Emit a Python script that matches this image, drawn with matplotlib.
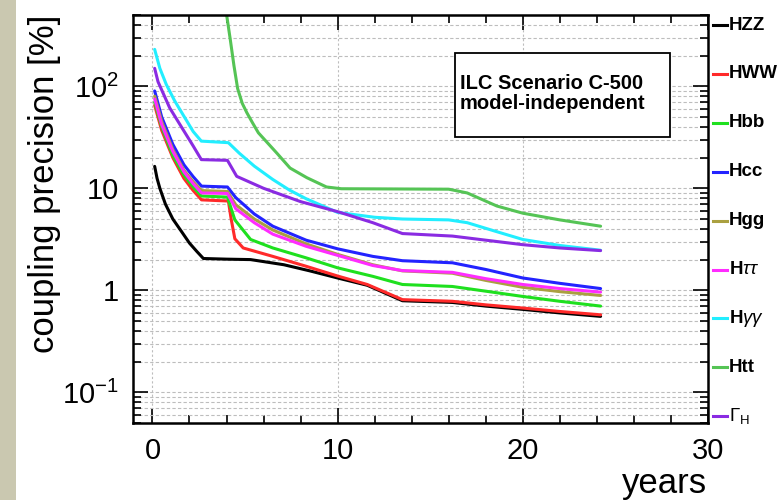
import matplotlib
matplotlib.use('Agg')
import matplotlib.pyplot as plt
from matplotlib.lines import Line2D
from matplotlib.patches import Rectangle
from matplotlib.ticker import FixedLocator, FixedFormatter, MultipleLocator, NullFormatter

plt.rcParams['font.family'] = ['Liberation Sans', 'DejaVu Sans']
plt.rcParams['mathtext.fontset'] = 'custom'
plt.rcParams['mathtext.rm'] = 'Liberation Sans'
plt.rcParams['mathtext.it'] = 'Liberation Sans:italic'
plt.rcParams['mathtext.bf'] = 'Liberation Sans:bold'

# coupling precision [%] vs. running time [years], ILC scenario C-500
years_zz = [0.12, 0.25, 0.4, 0.7, 1.1, 1.6, 2.0, 2.4, 2.75, 4.0, 5.3, 7.1, 8.5, 10.0, 11.6, 13.5, 16.2, 18.0, 20.0, 22.0, 24.2]
hzz = [16.4, 12.5, 10.0, 7.0, 5.0, 3.7, 2.9, 2.4, 2.05, 2.02, 2.0, 1.78, 1.55, 1.32, 1.12, 0.79, 0.76, 0.70, 0.65, 0.60, 0.555]

years_ww = [0.12, 0.5, 1.1, 1.7, 2.2, 2.65, 4.1, 4.25, 4.45, 4.9, 6.5, 8.3, 10.0, 11.6, 13.5, 16.2, 18.0, 20.0, 22.0, 24.2]
hww = [65, 37, 20, 12.5, 9.5, 7.7, 7.5, 5.0, 3.2, 2.6, 2.15, 1.72, 1.38, 1.14, 0.81, 0.78, 0.72, 0.67, 0.62, 0.575]

years_bb = [0.12, 0.5, 1.1, 1.7, 2.2, 2.65, 4.05, 4.45, 5.3, 6.5, 8.3, 10.0, 11.9, 13.5, 16.2, 18.0, 20.0, 22.0, 24.2]
hbb = [70, 40, 21, 13.5, 10.3, 8.4, 8.2, 4.9, 3.15, 2.6, 2.08, 1.66, 1.37, 1.14, 1.09, 0.98, 0.87, 0.78, 0.70]

years_cc = [0.12, 0.5, 1.1, 1.7, 2.2, 2.65, 4.05, 4.5, 5.5, 6.5, 8.3, 10.0, 11.9, 13.5, 16.2, 18.0, 20.0, 22.0, 24.2]
hcc = [90, 50, 27, 17, 13, 10.5, 10.3, 8.1, 5.6, 4.25, 3.1, 2.55, 2.15, 1.95, 1.86, 1.6, 1.32, 1.17, 1.04]
hgg = [80, 45, 24, 15, 11.6, 9.5, 9.3, 6.9, 5.0, 3.9, 2.85, 2.25, 1.78, 1.55, 1.47, 1.25, 1.07, 0.97, 0.89]
htautau = [75, 42, 23, 14.5, 11.1, 9.0, 8.9, 6.3, 4.6, 3.55, 2.7, 2.2, 1.75, 1.56, 1.5, 1.3, 1.14, 1.04, 0.96]

years_gaga = [0.12, 0.4, 0.75, 1.2, 1.65, 2.2, 2.64, 4.1, 4.7, 5.5, 6.5, 7.4, 8.3, 10.0, 12.0, 13.5, 16.0, 17.0, 18.5, 20.0, 22.0, 24.2]
hgaga = [230, 150, 104, 72, 52.7, 36, 29, 28, 22, 16.5, 12.2, 9.6, 7.9, 5.8, 5.2, 5.0, 4.9, 4.6, 3.8, 3.15, 2.75, 2.47]

years_tt = [4.0, 4.2, 4.4, 4.6, 4.85, 5.1, 5.4, 5.72, 6.71, 7.43, 8.34, 9.4, 10.2, 16.0, 17.0, 18.6, 20.0, 22.0, 24.2]
htt = [508, 290, 160, 95, 68, 55, 44, 35, 22.2, 15.8, 12.7, 10.3, 9.9, 9.8, 9.0, 6.7, 5.7, 4.9, 4.25]

years_gh = [0.12, 0.3, 0.93, 1.65, 2.2, 2.64, 4.05, 4.55, 6.0, 8.0, 10.0, 11.9, 13.5, 16.2, 18.0, 20.0, 22.0, 24.2]
gamma_h = [150, 111, 61.5, 37.7, 26, 19.1, 18.8, 13.1, 10, 7.4, 5.9, 4.6, 3.6, 3.4, 3.1, 2.8, 2.6, 2.45]

channels = [
    ('HZZ', years_zz, hzz, '#000000'),
    ('HWW', years_ww, hww, '#ff2a2a'),
    ('Hbb', years_bb, hbb, '#1fe01f'),
    ('Hcc', years_cc, hcc, '#2323ff'),
    ('Hgg', years_cc, hgg, '#aaa040'),
    (r'H$\tau\tau$', years_cc, htautau, '#ff2cff'),
    (r'H$\gamma\gamma$', years_gaga, hgaga, '#22eeff'),
    ('Htt', years_tt, htt, '#55c455'),
    (r'$\Gamma_{\rm H}$', years_gh, gamma_h, '#8a2be2'),
]

W, H = 777, 500
fig = plt.figure(figsize=(W / 100, H / 100), dpi=100)
ax = fig.add_axes([133 / W, 1 - 423 / H, 575 / W, 408 / H])

# greyish strip at the left margin
fig.patches.append(Rectangle((0, 0), 16 / W, 1, transform=fig.transFigure,
                             facecolor='#cac8b0', edgecolor='none', zorder=0))

for name, xs, ys, col in channels:
    ax.plot(xs, ys, color=col, lw=2.2, solid_joinstyle='round', solid_capstyle='round')

ax.set_yscale('log')
ax.set_xlim(-1.05, 30)
ax.set_ylim(0.05, 500)

ax.yaxis.set_major_locator(FixedLocator([0.1, 1, 10, 100]))
ax.yaxis.set_major_formatter(FixedFormatter(['$10^{-1}$', '1', '10', '$10^{2}$']))
minors = [m * 10.0 ** e for e in range(-2, 3) for m in range(2, 10)]
ax.yaxis.set_minor_locator(FixedLocator(minors))
ax.yaxis.set_minor_formatter(NullFormatter())
ax.xaxis.set_major_locator(MultipleLocator(10))
ax.xaxis.set_minor_locator(MultipleLocator(2))

ax.tick_params(which='both', direction='in', top=True, right=True, width=1.2)
ax.tick_params(which='major', length=11, labelsize=21, pad=10)
ax.tick_params(which='minor', length=6)

ax.grid(True, which='both', axis='y', color='#bdbdbd', lw=0.8, linestyle=(0, (3, 2)))
ax.grid(True, which='major', axis='x', color='#bdbdbd', lw=0.8, linestyle=(0, (2, 2)))
ax.set_axisbelow(True)
for sp in ax.spines.values():
    sp.set_linewidth(1.8)

fig.text(45 / W, 1 - 15 / H, 'coupling precision [%]', rotation=90,
         ha='center', va='top', fontsize=25)
fig.text(707 / W, 1 - 484 / H, 'years', ha='right', va='center', fontsize=25)

# scenario box
ax.add_patch(Rectangle((0.560, 0.701), 0.374, 0.206, transform=ax.transAxes,
                       facecolor='white', edgecolor='black', lw=1.3, zorder=3))
ax.text(0.568, 0.831, 'ILC Scenario C-500', transform=ax.transAxes, zorder=4,
        fontsize=14.5, fontweight='bold', ha='left', va='center')
ax.text(0.568, 0.782, 'model-independent', transform=ax.transAxes, zorder=4,
        fontsize=14.5, fontweight='bold', ha='left', va='center')

# channel key on the right
for i, (name, xs, ys, col) in enumerate(channels):
    yk = 1 - (25 + i * 48.9) / H
    fig.add_artist(Line2D([713 / W, 727 / W], [yk, yk], color=col, lw=2.2))
    fig.text(729 / W, yk, name, ha='left', va='center', fontsize=13.5, fontweight='bold')

fig.savefig('out.png', dpi=100)
